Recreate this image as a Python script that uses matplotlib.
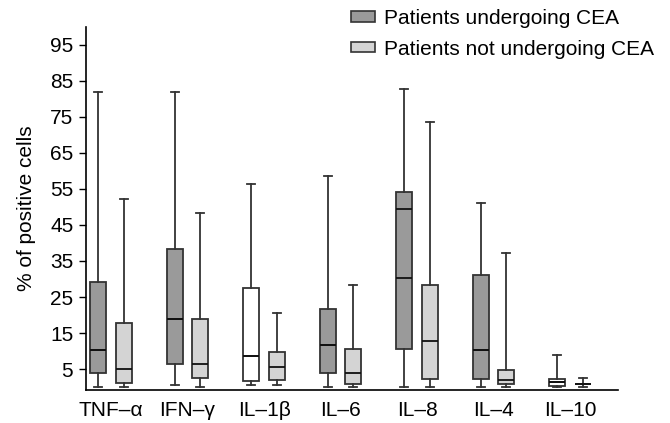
import matplotlib
matplotlib.use("Agg")
import matplotlib.pyplot as plt
from matplotlib.patches import Patch

plt.rcParams["font.family"] = ["Liberation Sans", "DejaVu Sans"]

cytokines = ["TNF\u2013\u03b1", "IFN\u2013\u03b3", "IL\u20131\u03b2", "IL\u20136", "IL\u20138", "IL\u20134", "IL\u201310"]

# patients undergoing CEA
cea_low = [0, 0.5, 0.5, 0, 0, 0, 0]
cea_q1 = [3.9, 6.5, 1.8, 3.9, 10.5, 2.3, 0.3]
cea_med = [10.3, 18.9, 8.6, 11.6, 30.3, 10.3, 1.5]
cea_q3 = [29.2, 38.3, 27.5, 21.6, 54.1, 31.2, 2.3]
cea_high = [82, 82, 56.4, 58.6, 82.8, 51, 9]
cea_extra = [None, None, None, None, 49.5, None, None]
cea_fill = ["#9a9a9a", "#9a9a9a", "white", "#9a9a9a", "#9a9a9a", "#9a9a9a", "white"]

# patients not undergoing CEA
no_low = [0, 0, 0.5, 0, 0, 0, 0]
no_q1 = [1.1, 2.4, 2.0, 0.85, 2.3, 0.85, 0.9]
no_med = [5.1, 6.4, 5.6, 3.8, 12.7, 2.0, 0.9]
no_q3 = [17.7, 19.0, 9.7, 10.5, 28.4, 4.7, 0.9]
no_high = [52.2, 48.2, 20.7, 28.4, 73.5, 37.3, 2.4]

dark = "#9a9a9a"
light = "#d4d4d4"
edge = "#333333"


def stats(low, q1, med, q3, high, extra=None):
    out = []
    for i in range(len(low)):
        d = {"whislo": low[i], "q1": q1[i], "med": med[i], "q3": q3[i],
             "whishi": high[i], "fliers": []}
        if extra is not None and extra[i] is not None:
            d["mean"] = extra[i]
        else:
            d["mean"] = med[i]
        out.append(d)
    return out


fig = plt.figure(figsize=(6.7, 4.23), dpi=100)
ax = fig.add_axes([0.128, 0.078, 0.795, 0.859])

off = 0.167
pos_a = [i - off for i in range(len(cytokines))]
pos_b = [i + off for i in range(len(cytokines))]

common = dict(widths=0.21, patch_artist=True, showfliers=False,
              whiskerprops=dict(color=edge, lw=1.3),
              capprops=dict(color=edge, lw=1.3),
              medianprops=dict(color="#111111", lw=1.3),
              boxprops=dict(edgecolor=edge, lw=1.3))

ba = ax.bxp(stats(cea_low, cea_q1, cea_med, cea_q3, cea_high, cea_extra),
            positions=pos_a, showmeans=True, meanline=True,
            meanprops=dict(color="#111111", lw=1.3, ls="-"), **common)
for box, c in zip(ba["boxes"], cea_fill):
    box.set_facecolor(c)

bb = ax.bxp(stats(no_low, no_q1, no_med, no_q3, no_high),
            positions=pos_b, **common)
for box in bb["boxes"]:
    box.set_facecolor(light)

ax.set_xlim(-0.33, 6.63)
ax.set_ylim(-0.8, 100)
ax.set_yticks(range(5, 100, 10))
ax.set_xticks(range(len(cytokines)))
ax.set_xticklabels(cytokines, fontsize=15)
ax.tick_params(axis="x", length=0, pad=8)
ax.tick_params(axis="y", labelsize=15, length=5, width=1, pad=4)
ax.set_ylabel("% of positive cells", fontsize=15, labelpad=10)
for s in ["top", "right"]:
    ax.spines[s].set_visible(False)
ax.spines["left"].set_linewidth(1.2)
ax.spines["bottom"].set_linewidth(1.2)

handles = [Patch(facecolor=dark, edgecolor=edge, lw=1.2),
           Patch(facecolor=light, edgecolor=edge, lw=1.2)]
fig.legend(handles, ["Patients undergoing CEA", "Patients not undergoing CEA"],
           loc="upper left", bbox_to_anchor=(0.509, 1.003), frameon=False,
           borderpad=0, fontsize=15, handlelength=1.15, handleheight=0.4,
           labelspacing=0.55, handletextpad=0.4)

fig.savefig("out.png", dpi=100)
